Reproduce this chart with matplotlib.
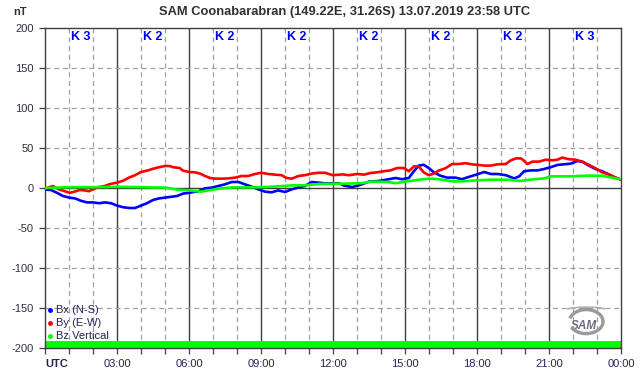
import matplotlib
matplotlib.use("Agg")
import matplotlib.pyplot as plt
import matplotlib.ticker as mticker
from matplotlib.patches import Arc

# -- Data (hours UTC, nT) --
BX_HOURS = [0, 0.25, 0.5, 0.75, 1, 1.25, 1.5, 1.75, 2, 2.25, 2.5, 2.75, 3, 3.25, 3.5, 3.75,
            4, 4.25, 4.5, 4.75, 5, 5.25, 5.5, 5.75, 6, 6.1, 6.4, 6.67, 6.94, 7.22, 7.5, 7.78,
            8.06, 8.33, 8.61, 8.89, 9.17, 9.44, 9.72, 10, 10.28, 10.56, 10.83, 11.11, 11.39,
            11.67, 12.06, 12.25, 12.46, 12.8, 13.15, 13.5, 13.91, 14.33, 14.6, 14.88, 15.16,
            15.37, 15.57, 15.78, 15.99, 16.2, 16.47, 16.75, 17.1, 17.37, 17.65, 18, 18.3,
            18.58, 18.86, 19.2, 19.55, 19.76, 19.96, 20.24, 20.52, 20.79, 21.07, 21.35, 21.62,
            21.9, 22.18, 22.38, 22.66, 22.94, 23.21, 23.49, 23.77, 24]
BX_VALUES = [-2, -2.5, -6, -10, -12, -13, -16, -18, -18, -19, -18, -19, -22, -24, -25, -25,
             -22, -19, -15, -13, -12, -11, -10, -7, -6, -5.4, -4, -0.4, 0.4, 2.5, 4.6, 7.5,
             7.5, 4.6, 1.7, -1.7, -4.6, -5.4, -3, -5, -1.7, 0.8, 2.5, 7.5, 6.7,
             5.8, 5.8, 6, 3, 1.2, 4, 8, 8.8, 11, 12.5, 11, 12.5,
             21, 28, 29, 25, 19.6, 15.4, 13, 13, 11, 13.8, 17, 20,
             17.5, 17.5, 16, 12, 14.6, 21, 22, 22, 23.7, 26, 28.8, 29.6,
             30.4, 33.7, 33, 28, 23.7, 21, 17, 13, 10.4]

BY_HOURS = [0, 0.33, 0.61, 0.82, 1.03, 1.24, 1.44, 1.65, 1.83, 1.97, 2.21, 2.49, 2.72, 3,
            3.25, 3.5, 3.75, 4, 4.25, 4.5, 4.75, 5, 5.19, 5.33, 5.61, 5.75, 6, 6.25, 6.46,
            6.67, 6.88, 7.08, 7.36, 7.64, 7.92, 8.19, 8.47, 8.75, 9, 9.31, 9.58, 9.86, 10.07,
            10.28, 10.56, 10.83, 11.11, 11.39, 11.67, 11.88, 12, 12.39, 12.66, 13.01, 13.29,
            13.57, 13.84, 14.12, 14.4, 14.67, 14.95, 15.16, 15.37, 15.57, 15.78, 15.99, 16.2,
            16.4, 16.68, 16.96, 17.24, 17.51, 17.79, 18, 18.3, 18.58, 18.86, 19.2, 19.41,
            19.62, 19.83, 19.96, 20.1, 20.31, 20.59, 20.86, 21.14, 21.35, 21.55, 21.83, 22.1,
            22.38, 22.66, 22.94, 23.21, 23.49, 23.77, 24]
BY_VALUES = [-1, 2.5, -2, -4, -6, -4.5, -2.5, -3, -4, -2, 1, 2.5, 5, 6.7,
             9, 13, 16, 20, 21.7, 24, 26, 27.5, 27.5, 26, 25, 21.7, 20, 19.6, 18,
             15, 12.5, 11.7, 11.7, 12, 13, 15, 15, 17.5, 19, 17.5, 16.7, 16, 12.5,
             11.7, 15, 16, 18, 19, 19, 17, 16, 17, 16, 17.5, 16.7,
             18.8, 19.6, 21, 22, 25, 25, 21, 27, 27, 19.6, 16, 18,
             21.7, 24.6, 30, 30, 31, 29.6, 29, 28, 28, 29.6, 30, 34.6,
             37, 37, 34, 30, 33, 33, 35.4, 34.6, 35.4, 38, 36, 35.4,
             33, 29, 24.6, 19.6, 17, 13, 10.4]

BZ_HOURS = [0, 0.5, 1, 2, 3, 4, 5, 5.5, 6, 6.5, 6.8, 7.2, 7.8, 8.3, 8.9, 9.5, 9.9, 10.3,
            10.8, 11.4, 12, 12.5, 13.2, 13.6, 14.3, 14.6, 15.2, 15.6, 16, 16.4, 17, 17.4,
            18, 18.6, 19.3, 19.8, 20.2, 20.8, 21.1, 21.9, 22.5, 23.2, 23.6, 24]
BZ_VALUES = [0, 0.5, 1, 1, 1.5, 1, 0.5, -2, -3, -4.6, -3, -1, 0.8, 0.8, 0.8, 1.7, 2.5, 3.3,
             3.3, 5, 5.4, 5.4, 6, 8, 7.5, 6, 8.8, 10.4, 11.7, 11, 8.3, 8.3,
             9.6, 10.4, 10.4, 8.8, 10.4, 12, 14.6, 14.6, 15.4, 15.4, 13, 11]

K_INDEX = ["K 3", "K 2", "K 2", "K 2", "K 2", "K 2", "K 2", "K 3"]
X_LABELS = ["UTC", "03:00", "06:00", "09:00", "12:00", "15:00", "18:00", "21:00", "00:00"]
TITLE = "SAM Coonabarabran (149.22E, 31.26S) 13.07.2019 23:58 UTC"


def main() -> None:
    plt.rcParams.update({
        "font.family": ["Liberation Sans", "DejaVu Sans"],
        "axes.unicode_minus": False,
    })

    BLUE = "#0000FF"
    RED = "#FF0000"
    GREEN = "#00FF00"
    DARK = "#404040"
    GRID = "#A0A0A0"
    LABEL = "#24245A"

    fig = plt.figure(figsize=(6.42, 3.76), dpi=100)
    fig.patch.set_facecolor("white")
    ax = fig.add_axes([45 / 642, 1 - 348 / 376, 576 / 642, 320 / 376])
    ax.set_xlim(0, 24)
    ax.set_ylim(-200, 200)

    # -- Grid: dashed hours / 50 nT, solid every 3 h and at 0 --
    for h in range(1, 24):
        if h % 3:
            ax.axvline(h, color=GRID, linewidth=0.9, linestyle=(0, (4, 3)), zorder=1)
        else:
            ax.axvline(h, color=DARK, linewidth=1.0, zorder=1)
    for v in range(-150, 200, 50):
        if v == 0:
            ax.axhline(v, color=DARK, linewidth=1.0, zorder=1)
        else:
            ax.axhline(v, color=GRID, linewidth=0.9, linestyle=(0, (4, 3)), zorder=1)

    # -- Data quality bar --
    ax.axhspan(-200, -191, color=GREEN, zorder=2, linewidth=0)

    # -- Traces --
    ax.plot(BX_HOURS, BX_VALUES, color=BLUE, linewidth=1.9, zorder=4)
    ax.plot(BY_HOURS, BY_VALUES, color=RED, linewidth=1.9, zorder=4)
    ax.plot(BZ_HOURS, BZ_VALUES, color=GREEN, linewidth=1.9, zorder=5)

    # -- K index per 3 h block --
    for i, k in enumerate(K_INDEX):
        ax.text(3 * i + 1.5, 189, k, color=BLUE, fontsize=9, fontweight="bold",
                ha="center", va="center", zorder=6)

    # -- Legend (bottom-left) --
    for i, (name, col) in enumerate([("Bx (N-S)", BLUE), ("By (E-W)", RED), ("Bz Vertical", GREEN)]):
        y = -152 - 16.5 * i
        ax.plot([0.22], [y], "o", color=col, markersize=2.5, zorder=6)
        ax.text(0.45, y, name, color=LABEL, fontsize=8, ha="left", va="center", zorder=6)

    # -- SAM logo (rough) --
    ax.text(22.45, -172, "SAM", color="#6E6E86", fontsize=8.5, fontstyle="italic",
            fontweight="bold", ha="center", va="center", zorder=6)
    ax.add_patch(Arc((22.55, -167), 1.4, 30, theta1=-95, theta2=100, color="#9A9A9A",
                     linewidth=2.4, zorder=6))
    ax.add_patch(Arc((22.55, -152), 1.6, 6, theta1=20, theta2=160, color="#B0B0B0",
                     linewidth=1.2, zorder=6))

    # -- Axes styling --
    ax.xaxis.set_major_locator(mticker.FixedLocator(range(0, 25, 3)))
    ax.xaxis.set_minor_locator(mticker.FixedLocator(range(0, 25)))
    ax.set_xticklabels(X_LABELS)
    ax.yaxis.set_major_locator(mticker.FixedLocator(range(-200, 201, 50)))
    ax.tick_params(axis="both", which="both", direction="out", color=DARK, width=0.9)
    ax.tick_params(axis="x", which="major", length=4, labelsize=8, labelcolor=LABEL, pad=4)
    ax.tick_params(axis="x", which="minor", length=4)
    ax.tick_params(axis="y", length=4, labelsize=8, labelcolor="#303040", pad=4)
    labels = ax.get_xticklabels()
    labels[0].set_fontweight("bold")
    labels[0].set_horizontalalignment("left")
    for spine in ax.spines.values():
        spine.set_color(DARK)
        spine.set_linewidth(1.0)

    fig.text(20 / 642, 1 - 12 / 376, "nT", fontsize=8, fontweight="bold", color="#303030",
             ha="center", va="center")
    fig.text(345 / 642, 1 - 12 / 376, TITLE, fontsize=9.3, fontweight="bold", color="#303030",
             ha="center", va="center")

    fig.savefig("out.png", dpi=100, facecolor="white")


if __name__ == "__main__":
    main()
